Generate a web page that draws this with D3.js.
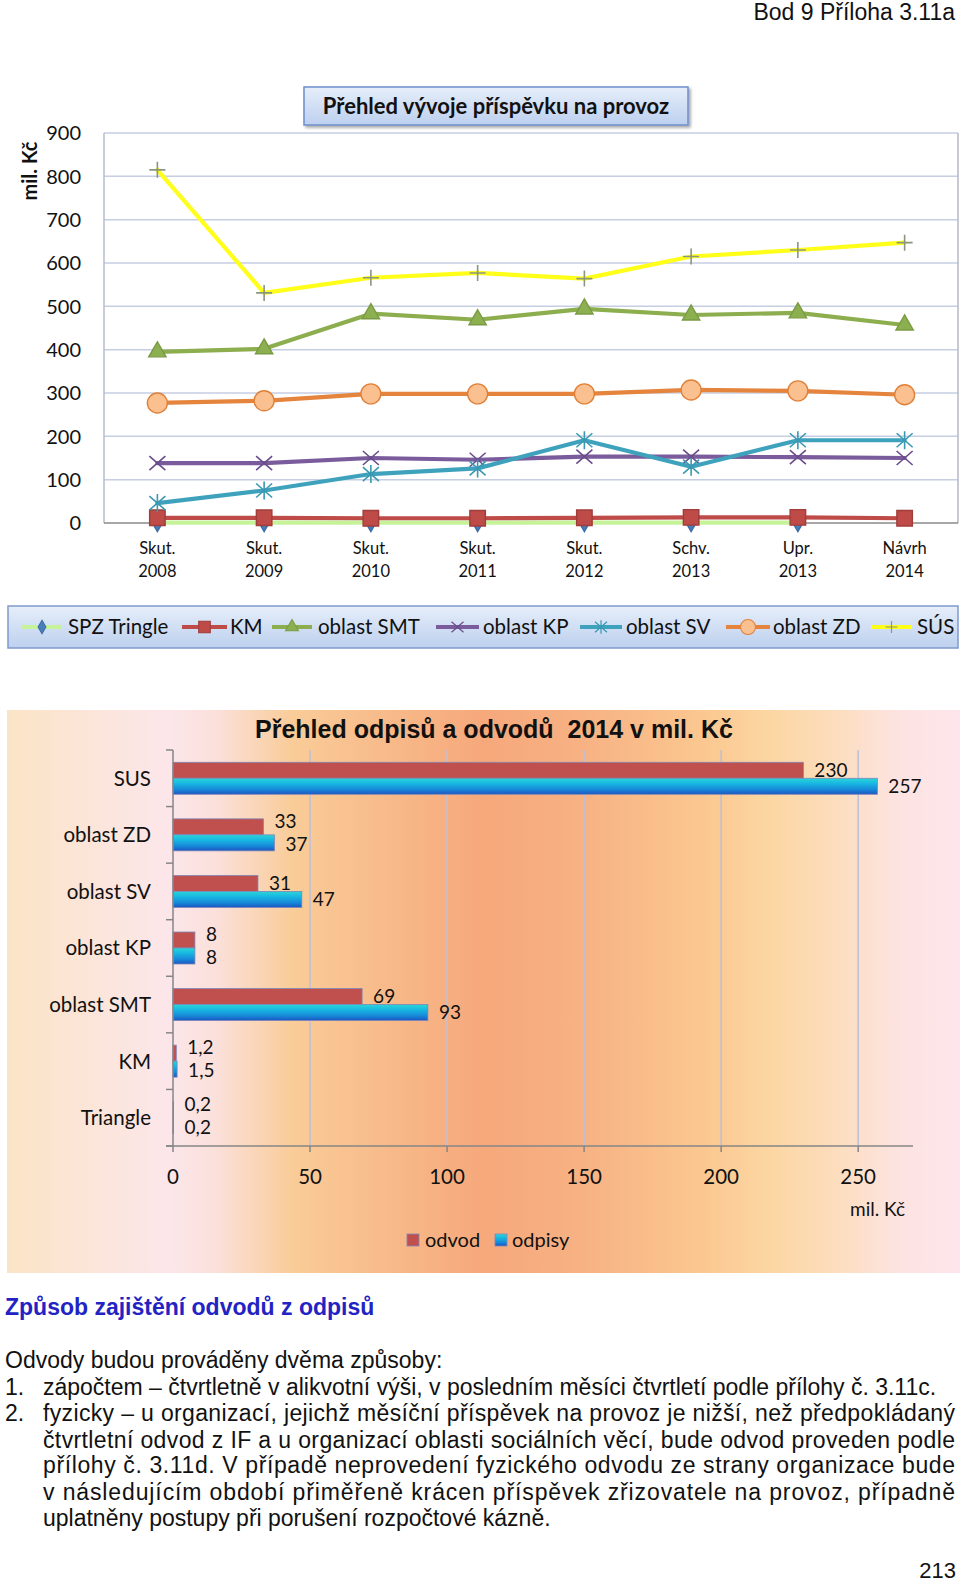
<!DOCTYPE html>
<html><head><meta charset="utf-8">
<script src="https://cdn.jsdelivr.net/npm/d3@7"></script>
<style>body{margin:0;background:#fff} svg{display:block}</style>
</head><body>
<svg id="c" width="960" height="1584"></svg>
<script>
// ---------- DATA ----------
const periodTop = ["Skut.","Skut.","Skut.","Skut.","Skut.","Schv.","Upr.","Návrh"];
const periodYear = ["2008","2009","2010","2011","2012","2013","2013","2014"];
const yTicks = [0,100,200,300,400,500,600,700,800,900];
const spzTriangle = [1,1,1,1,1,1,1,null];
const km = [12,12,11,11,12,13,13,11];
const oblastSMT = [395,402,483,469,494,480,485,457];
const oblastKP = [138,138,150,146,153,153,152,150];
const oblastSV = [46,75,113,126,191,130,191,191];
const oblastZD = [277,282,298,298,298,307,305,296];
const sus = [815,531,566,577,564,615,630,647];
const lineNames = ["SPZ Tringle","KM","oblast SMT","oblast KP","oblast SV","oblast ZD","SÚS"];

const barCategories = ["SUS","oblast ZD","oblast SV","oblast KP","oblast SMT","KM","Triangle"];
const odvod = [230,33,31,8,69,1.2,0.2];
const odpisy = [257,37,47,8,93,1.5,0.2];
const barTicks = [0,50,100,150,200,250];
const barSeriesNames = ["odvod","odpisy"];

const pageHeader = "Bod 9 Příloha 3.11a";
const lineTitle = "Přehled vývoje příspěvku na provoz";
const barTitle = "Přehled odpisů a odvodů  2014 v mil. Kč";
const heading = "Způsob zajištění odvodů z odpisů";
const intro = "Odvody budou prováděny dvěma způsoby:";
const item1 = "zápočtem – čtvrtletně v alikvotní výši, v posledním měsíci čtvrtletí podle přílohy č. 3.11c.";
const item2 = [
 "fyzicky – u organizací, jejichž měsíční příspěvek na provoz je nižší, než předpokládaný",
 "čtvrtletní odvod z IF a u organizací oblasti sociálních věcí, bude odvod proveden podle",
 "přílohy č. 3.11d. V případě neprovedení fyzického odvodu ze strany organizace bude",
 "v následujícím období přiměřeně krácen příspěvek zřizovatele na provoz, případně",
 "uplatněny postupy při porušení rozpočtové kázně."
];
const pageNumber = "213";

// ---------- SETUP ----------
const svg = d3.select("#c");
const defs = svg.append("defs");
const F = "Lato, 'Open Sans', sans-serif";
const A = "'Liberation Sans', Arial, sans-serif";

function lg(id, vertical, stops){
  const g = defs.append("linearGradient").attr("id", id)
    .attr("x1",0).attr("y1",0).attr("x2", vertical?0:1).attr("y2", vertical?1:0);
  stops.forEach(s=>g.append("stop").attr("offset",s[0]).attr("stop-color",s[1]));
}
lg("boxGrad", true, [[0,"#e6eef9"],[1,"#bdd0ef"]]);
lg("panelGrad", false, [[0,"#fbe4c6"],[0.17,"#fce6ea"],[0.22,"#fbe0da"],[0.3,"#f9cc98"],[0.5,"#f6a87b"],[0.6,"#f7b183"],[0.73,"#fbc790"],[0.8,"#fcd6a2"],[0.87,"#fcddbd"],[0.93,"#fde3df"],[1,"#fde5ec"]]);
lg("blueBar", true, [[0,"#2ad6d6"],[0.35,"#17b4e2"],[0.7,"#1789d8"],[1,"#1b55c2"]]);
const sh = defs.append("filter").attr("id","shadow").attr("x","-10%").attr("y","-20%").attr("width","130%").attr("height","160%");
sh.append("feDropShadow").attr("dx",2).attr("dy",2).attr("stdDeviation",1.5).attr("flood-color","#000").attr("flood-opacity",0.35);

// page header
svg.append("text").attr("x",955).attr("y",20).attr("text-anchor","end")
  .attr("font-family",A).attr("font-size",23).attr("fill","#111").text(pageHeader);

// ---------- LINE CHART ----------
const idx = d3.range(periodYear.length);
const x = d3.scaleBand().domain(idx).range([104,958]);
const xc = i => x(i) + x.bandwidth()/2;
const y = d3.scaleLinear().domain([0,900]).range([523,133]);
const lc = svg.append("g");

lc.selectAll("line.grid").data(yTicks.filter(d=>d>0)).join("line")
  .attr("x1",104).attr("x2",958).attr("y1",d=>y(d)).attr("y2",d=>y(d))
  .attr("stroke","#c6cee2").attr("stroke-width",1.5);
lc.append("line").attr("x1",958).attr("x2",958).attr("y1",y(900)).attr("y2",y(0)).attr("stroke","#b4b8c4").attr("stroke-width",1.5);
lc.append("line").attr("x1",104).attr("x2",104).attr("y1",y(900)).attr("y2",y(0)).attr("stroke","#b4bccc").attr("stroke-width",1.5);
lc.append("line").attr("x1",104).attr("x2",958).attr("y1",y(0)).attr("y2",y(0)).attr("stroke","#8a8a8a").attr("stroke-width",1.5);

lc.selectAll("text.yt").data(yTicks).join("text")
  .attr("x",81).attr("y",d=>y(d)).attr("dy","0.36em").attr("text-anchor","end")
  .attr("font-family",F).attr("font-size",20).attr("fill","#111").text(d=>d);
lc.append("text").attr("transform","translate(30,171) rotate(-90)").attr("text-anchor","middle").attr("dy","0.36em")
  .attr("font-family",F).attr("font-weight","bold").attr("font-size",20).attr("fill","#111").text("mil. Kč");
const xl = lc.selectAll("g.xl").data(idx).join("g");
xl.append("text").attr("x",i=>xc(i)).attr("y",548).attr("dy","0.36em").attr("text-anchor","middle")
  .attr("font-family",F).attr("font-size",16.5).attr("fill","#111").text(i=>periodTop[i]);
xl.append("text").attr("x",i=>xc(i)).attr("y",571).attr("dy","0.36em").attr("text-anchor","middle")
  .attr("font-family",F).attr("font-size",16.5).attr("fill","#111").text(i=>periodYear[i]);

const lineSeries = [
  {name:lineNames[0], values:spzTriangle, color:"#c6f29a", marker:"diamond", mfill:"#4a7ebb", mstroke:"#3d6ca6"},
  {name:lineNames[1], values:km, color:"#be4b48", marker:"square", mfill:"#be4b48", mstroke:"#a03c3a"},
  {name:lineNames[2], values:oblastSMT, color:"#8cae4f", marker:"triangle", mfill:"#8cb04f", mstroke:"#7a9a44"},
  {name:lineNames[3], values:oblastKP, color:"#7a5c9c", marker:"x", mfill:"none", mstroke:"#6a4c8c"},
  {name:lineNames[4], values:oblastSV, color:"#3fa2bd", marker:"star", mfill:"none", mstroke:"#3a98b3"},
  {name:lineNames[5], values:oblastZD, color:"#e5843c", marker:"circle", mfill:"#fbc08f", mstroke:"#e0813a"},
  {name:lineNames[6], values:sus, color:"#ffff1a", marker:"plus", mfill:"none", mstroke:"#8a9680"}
];

function marker(g, type, cx, cy, k, fill, stroke){
  const t = `translate(${cx},${cy}) scale(${k})`;
  let p;
  switch(type){
    case "diamond": p = g.append("path").attr("d", d3.symbol(d3.symbolDiamond, 95)()); break;
    case "square": p = g.append("path").attr("d", d3.symbol(d3.symbolSquare, 240)()); break;
    case "triangle": p = g.append("path").attr("d", d3.symbol(d3.symbolTriangle, 130)()); break;
    case "x": p = g.append("path").attr("d","M-8,-7L8,7M-8,7L8,-7").attr("stroke-width",1.6); break;
    case "star": p = g.append("path").attr("d","M-8,-7L8,7M-8,7L8,-7M0,-9L0,9").attr("stroke-width",1.6); break;
    case "circle": p = g.append("circle").attr("r",10); break;
    case "plus": p = g.append("path").attr("d","M-8,0H8M0,-8V8").attr("stroke-width",1.6); break;
  }
  p.attr("transform",t).attr("fill",fill).attr("stroke",stroke);
  if(type==="circle"||type==="square"||type==="triangle"||type==="diamond") p.attr("stroke-width",1.4);
}

const lineGen = d3.line().defined(d=>d!=null).x((d,i)=>xc(i)).y(d=>y(d));
lineSeries.forEach(s=>{
  const g = lc.append("g");
  g.append("path").attr("d", lineGen(s.values)).attr("fill","none").attr("stroke",s.color)
    .attr("stroke-width",4.2).attr("stroke-linejoin","round").attr("stroke-linecap","round");
  s.values.forEach((v,i)=>{ if(v!=null) marker(g, s.marker, xc(i), y(v), 1, s.mfill, s.mstroke); });
});

// title box
const tb = svg.append("g");
tb.append("rect").attr("x",304).attr("y",87).attr("width",384).attr("height",38)
  .attr("fill","url(#boxGrad)").attr("stroke","#6d8fcb").attr("stroke-width",1.5).attr("filter","url(#shadow)");
tb.append("text").attr("x",496).attr("y",106).attr("dy","0.36em").attr("text-anchor","middle")
  .attr("font-family",F).attr("font-weight","bold").attr("font-size",22).attr("fill","#111").text(lineTitle);

// legend
const lgG = svg.append("g");
lgG.append("rect").attr("x",8).attr("y",606).attr("width",950).attr("height",42)
  .attr("fill","url(#boxGrad)").attr("stroke","#7f9bcb").attr("stroke-width",1.5);
const legendPos = [[22,62,68],[182,227,230],[272,312,318],[436,479,483],[580,622,626],[726,770,773],[871,912,917]];
lineSeries.forEach((s,i)=>{
  const [a,b,t] = legendPos[i];
  lgG.append("line").attr("x1",a).attr("x2",b).attr("y1",627).attr("y2",627).attr("stroke",s.color).attr("stroke-width",4.2);
  marker(lgG, s.marker, (a+b)/2, 627, 0.75, s.mfill, s.mstroke);
  lgG.append("text").attr("x",t).attr("y",627).attr("dy","0.36em").attr("font-family",F).attr("font-size",20.5).attr("fill","#111").text(s.name);
});

// ---------- BAR CHART ----------
const bc = svg.append("g");
bc.append("rect").attr("x",7).attr("y",710).attr("width",953).attr("height",563).attr("fill","url(#panelGrad)");
bc.append("text").attr("x",255).attr("y",738).attr("font-family",A).attr("font-weight","bold").attr("font-size",25)
  .attr("fill","#111").style("white-space","pre").attr("xml:space","preserve").text(barTitle);

const bx = d3.scaleLinear().domain([0,270]).range([173,913]);
const by = d3.scaleBand().domain(barCategories).range([750,1146]);
const inner = d3.scaleBand().domain(barSeriesNames).range([by.bandwidth()/2-16, by.bandwidth()/2+16]);

bc.selectAll("line.vg").data(barTicks.filter(d=>d>0)).join("line")
  .attr("x1",d=>bx(d)).attr("x2",d=>bx(d)).attr("y1",750).attr("y2",1146)
  .attr("stroke","#bfc0d6").attr("stroke-width",1.6);

const barData = [];
barCategories.forEach((c,i)=>{
  barData.push({c, s:"odvod", v:odvod[i]});
  barData.push({c, s:"odpisy", v:odpisy[i]});
});
bc.selectAll("rect.bar").data(barData).join("rect")
  .attr("x",bx(0)).attr("y",d=>by(d.c)+inner(d.s)).attr("width",d=>bx(d.v)-bx(0)).attr("height",inner.bandwidth())
  .attr("fill",d=>d.s==="odvod"?"#c0504d":"url(#blueBar)").attr("stroke","#7d87b8").attr("stroke-width",0.8);

// label positions: bar end + gap, vertically at bar centre, pushed apart when the pair would collide
const fmt = v => String(v).replace(".",",");
const labels = barData.map(d=>({d, lx: bx(d.v)+11, ly: by(d.c)+inner(d.s)+inner.bandwidth()/2}));
for(let i=0;i<labels.length;i+=2){
  const a = labels[i], b = labels[i+1];
  if(Math.abs(a.lx-b.lx) < 40){
    const gap = b.ly - a.ly, need = 23;
    if(gap < need){ const m=(a.ly+b.ly)/2; a.ly = m-need/2-2; b.ly = m+need/2-2; }
  }
}
bc.selectAll("text.vl").data(labels).join("text")
  .attr("x",l=>l.lx).attr("y",l=>l.ly).attr("dy","0.36em")
  .attr("font-family",F).attr("font-size",19).attr("fill","#111").text(l=>fmt(l.d.v));

bc.append("line").attr("x1",173).attr("x2",173).attr("y1",750).attr("y2",1146).attr("stroke","#868686").attr("stroke-width",1.5);
bc.append("line").attr("x1",166).attr("x2",913).attr("y1",1146).attr("y2",1146).attr("stroke","#868686").attr("stroke-width",1.5);
const bounds = barCategories.map(c=>by(c)).concat([1146]);
bc.selectAll("line.yt").data(bounds).join("line").attr("x1",166).attr("x2",173).attr("y1",d=>d).attr("y2",d=>d).attr("stroke","#868686").attr("stroke-width",1.5);
bc.selectAll("line.xt").data(barTicks).join("line").attr("x1",d=>bx(d)).attr("x2",d=>bx(d)).attr("y1",1146).attr("y2",1152).attr("stroke","#868686").attr("stroke-width",1.5);

bc.selectAll("text.cat").data(barCategories).join("text")
  .attr("x",151).attr("y",d=>by(d)+by.bandwidth()/2).attr("dy","0.36em").attr("text-anchor","end")
  .attr("font-family",F).attr("font-size",20.5).attr("fill","#111").text(d=>d);
bc.selectAll("text.xtl").data(barTicks).join("text")
  .attr("x",d=>bx(d)).attr("y",1177).attr("dy","0.36em").attr("text-anchor","middle")
  .attr("font-family",F).attr("font-size",20.5).attr("fill","#111").text(d=>d);
bc.append("text").attr("x",905).attr("y",1209).attr("dy","0.36em").attr("text-anchor","end")
  .attr("font-family",F).attr("font-size",19).attr("fill","#111").text("mil. Kč");

const blPos = [[407,425],[495,512]];
barSeriesNames.forEach((n,i)=>{
  bc.append("rect").attr("x",blPos[i][0]).attr("y",1234).attr("width",12).attr("height",12)
    .attr("fill",i===0?"#c0504d":"url(#blueBar)").attr("stroke","#7d87b8").attr("stroke-width",0.8);
  bc.append("text").attr("x",blPos[i][1]).attr("y",1240).attr("dy","0.36em")
    .attr("font-family",F).attr("font-size",20).attr("fill","#111").text(n);
});

// ---------- TEXT ----------
const tg = svg.append("g").attr("font-family",A).attr("fill","#111");
tg.append("text").attr("x",5).attr("y",1315).attr("font-size",23).attr("font-weight","bold").attr("fill","#2323c4").text(heading);
tg.append("text").attr("x",5).attr("y",1368).attr("font-size",23).text(intro);
tg.append("text").attr("x",5).attr("y",1395).attr("font-size",23).text("1.");
tg.append("text").attr("x",43).attr("y",1395).attr("font-size",23).text(item1);
tg.append("text").attr("x",5).attr("y",1421).attr("font-size",23).text("2.");
const lineYs = [1421,1448,1473,1500,1526];
item2.forEach((t,i)=>{
  const el = tg.append("text").attr("x",43).attr("y",lineYs[i]).attr("font-size",23).text(t);
  if(i<item2.length-1) el.attr("textLength",912).attr("lengthAdjust","spacing");
});
tg.append("text").attr("x",956).attr("y",1578).attr("text-anchor","end").attr("font-size",22).text(pageNumber);
</script>
</body></html>
